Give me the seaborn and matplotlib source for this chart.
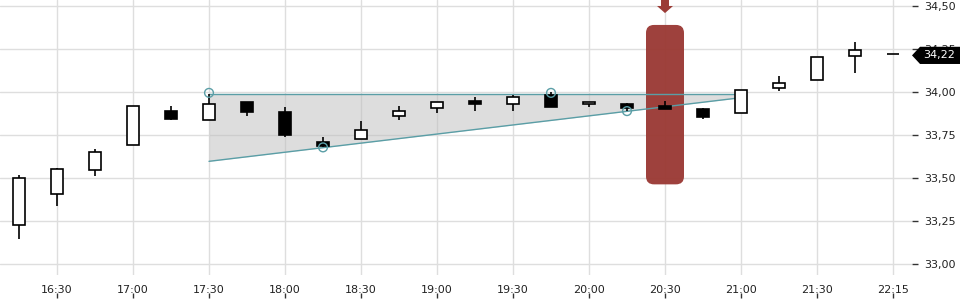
import numpy as np
import pandas as pd
import matplotlib
matplotlib.use("Agg")
import matplotlib.pyplot as plt
import matplotlib.transforms as mtransforms
from matplotlib.patches import FancyBboxPatch, Polygon
import seaborn as sns

# ---- data ----
times = ["16:15", "16:30", "16:45", "17:00", "17:15", "17:30", "17:45", "18:00",
         "18:15", "18:30", "18:45", "19:00", "19:15", "19:30", "19:45", "20:00",
         "20:15", "20:30", "20:45", "21:00", "21:15", "21:30", "21:45", "22:00"]
opens = [33.225, 33.405, 33.545, 33.690, 33.888, 33.835, 33.940, 33.882,
         33.709, 33.725, 33.859, 33.905, 33.946, 33.928, 33.984, 33.928,
         33.930, 33.919, 33.901, 33.876, 34.022, 34.068, 34.208, 34.221]
highs = [33.517, 33.558, 33.669, 33.917, 33.919, 33.990, 33.940, 33.911,
         33.737, 33.831, 33.919, 33.940, 33.971, 33.984, 34.000, 33.940,
         33.936, 33.948, 33.905, 34.010, 34.091, 34.202, 34.291, 34.221]
lows = [33.147, 33.339, 33.513, 33.690, 33.837, 33.835, 33.862, 33.740,
        33.680, 33.725, 33.839, 33.880, 33.891, 33.891, 33.915, 33.915,
        33.890, 33.903, 33.841, 33.876, 34.004, 34.068, 34.112, 34.221]
closes = [33.498, 33.551, 33.649, 33.917, 33.845, 33.928, 33.885, 33.752,
          33.688, 33.777, 33.888, 33.940, 33.928, 33.969, 33.915, 33.940,
          33.909, 33.903, 33.856, 34.010, 34.051, 34.202, 34.242, 34.221]

xtick_idx = [1, 3, 5, 7, 9, 11, 13, 15, 17, 19, 21, 23]
xtick_labels = ["16:30", "17:00", "17:30", "18:00", "18:30", "19:00",
                "19:30", "20:00", "20:30", "21:00", "21:30", "22:15"]
ytick_vals = [33.00, 33.25, 33.50, 33.75, 34.00, 34.25, 34.50]

# channel (triangle) drawing
chan_x = [5, 19]
chan_top = [33.987, 33.987]
chan_bottom = [33.597, 33.967]
pivot_x = [5, 14, 8, 16]
pivot_y = [33.995, 33.995, 33.678, 33.889]

# highlight
hl_idx = 17
hl_low, hl_high = 33.463, 34.39
last_price = 34.22

# ---- style ----
sns.set_theme(style="white")
plt.rcParams["font.family"] = ["DejaVu Sans"]

fig = plt.figure(figsize=(9.6, 3.0), dpi=100)
ax = fig.add_axes([0.0, 25 / 300, 912 / 960, 275 / 300])

x = np.arange(len(times))
df = pd.DataFrame({"x": x, "open": opens, "high": highs, "low": lows, "close": closes})

ax.set_xlim(-0.5, 23.5)
ax.set_ylim(32.936, 34.535)

# grid
grid_c = "#dedede"
for v in ytick_vals:
    ax.axhline(v, color=grid_c, lw=1, zorder=0)
for xi in xtick_idx:
    ax.axvline(xi, color=grid_c, lw=1, zorder=0)

# channel fill
ax.fill_between(chan_x, chan_bottom, chan_top, color="#bdbdbd", alpha=0.5, lw=0, zorder=1)

# red highlight box
red = "#9b3b36"
box = FancyBboxPatch((hl_idx - 0.5, hl_low), 1.0, hl_high - hl_low,
                     boxstyle="round,pad=0,rounding_size=0.21",
                     mutation_aspect=38 / 172, fc=red, ec="none", alpha=0.97, zorder=2)
ax.add_patch(box)
# arrow above
aw, hw = 0.105, 0.21
arrow = Polygon([(hl_idx - aw, 34.56), (hl_idx + aw, 34.56), (hl_idx + aw, 34.50),
                 (hl_idx + hw, 34.50), (hl_idx, 34.459), (hl_idx - hw, 34.50),
                 (hl_idx - aw, 34.50)], closed=True, fc=red, ec="none",
                clip_on=False, zorder=2)
ax.add_patch(arrow)

# channel lines
teal = "#5a9ea6"
sns.lineplot(x=chan_x, y=chan_top, color=teal, lw=1, ax=ax, zorder=3)
sns.lineplot(x=chan_x, y=chan_bottom, color=teal, lw=1, ax=ax, zorder=3)

# candles
ax.vlines(df["x"], df["low"], df["high"], color="black", lw=1.2, zorder=4)
up = df["close"] >= df["open"]
bottoms = np.minimum(df["open"], df["close"])
heights = np.abs(df["close"] - df["open"])
ax.bar(df["x"], heights, bottom=bottoms, width=0.33,
       color=np.where(up, "white", "black"), edgecolor="black", linewidth=1.2, zorder=5)

# pivot circles
sns.scatterplot(x=pivot_x, y=pivot_y, s=40, facecolors="none", edgecolor=teal,
                linewidth=1, ax=ax, zorder=6)

# axes styling
for s in ax.spines.values():
    s.set_visible(False)
ax.yaxis.tick_right()
ax.set_yticks(ytick_vals)
ax.set_yticklabels([f"{v:.2f}".replace(".", ",") for v in ytick_vals])
ax.tick_params(axis="y", which="both", right=True, length=4, width=1, color="#333333",
               pad=5, labelsize=8, labelcolor="#222222")
ax.set_xticks(xtick_idx)
ax.set_xticklabels(xtick_labels, fontfamily=["Liberation Sans Narrow", "DejaVu Sans"])
ax.tick_params(axis="x", bottom=False, length=0, pad=7, labelsize=8, labelcolor="#222222")
ax.grid(False)
ax.set_xlabel("")
ax.set_ylabel("")

# small x tick marks below labels
trans = mtransforms.blended_transform_factory(ax.transData, ax.transAxes)
ax.vlines(xtick_idx, -0.0836, -0.0655, color="#333333", lw=1, transform=trans,
          clip_on=False, zorder=6)

# last price tag
trans_y = mtransforms.blended_transform_factory(ax.transAxes, ax.transData)
tag = Polygon([(1.0, 34.213), (1.0088, 34.263), (1.07, 34.263), (1.07, 34.163),
               (1.0088, 34.163)], closed=True, fc="black", ec="none",
              transform=trans_y, clip_on=False, zorder=10)
ax.add_patch(tag)
ax.text(1.0121, 34.213, f"{last_price:.2f}".replace(".", ","), transform=trans_y,
        color="white", fontsize=8, va="center", ha="left", zorder=11, clip_on=False)

fig.savefig("out.png", dpi=100)
